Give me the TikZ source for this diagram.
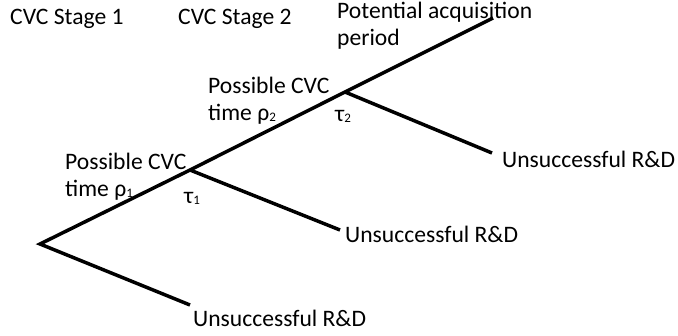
\documentclass[tikz,border=0pt]{standalone}
\usepackage{fontspec}
\setmainfont{Carlito}
\usetikzlibrary{positioning}
\newcommand{\idx}[1]{\raisebox{-0.1ex}{\fontsize{13}{13}\selectfont #1}}

\begin{document}
\begin{tikzpicture}[x=1pt, y=-1pt, font=\fontsize{23.6}{27}\selectfont,
  branch/.style={line width=3.5pt},
  lbl/.style={anchor=base west, inner sep=0pt, align=left}]
\useasboundingbox (0,0) rectangle (678,335);
\coordinate (root) at (40,244);
\coordinate (t1) at (190,170);
\coordinate (t2) at (345,92);
\coordinate (top) at (493,18);
\coordinate (end0) at (190,305);
\coordinate (end1) at (340,230);
\coordinate (end2) at (492,153);
\draw [branch] (end0) -- (root) -- (t1) -- (t2) -- (top);
\draw [branch] (t1) -- (end1);
\draw [branch] (t2) -- (end2);
% labels (base = last line)
\node [lbl] (stage1) at (10,24) {CVC Stage 1};
\node [lbl] (stage2) at (178,24) {CVC Stage 2};
\node [lbl] (acq) at (337,45) {Potential acquisition\\period};
\node [lbl] (rho1) at (65,196) {Possible CVC\\time ρ\idx{1}};
\node [lbl] (rho2) at (208,120) {Possible CVC\\time ρ\idx{2}};
\node [lbl] (tau1) at (184,203) {τ\idx{1}};
\node [lbl] (tau2) at (335,121) {τ\idx{2}};
\node [lbl] (fail0) at (193,326) {Unsuccessful R\&D};
\node [lbl] (fail1) at (345,242) {Unsuccessful R\&D};
\node [lbl] (fail2) at (502,167) {Unsuccessful R\&D};
\end{tikzpicture}
\end{document}
